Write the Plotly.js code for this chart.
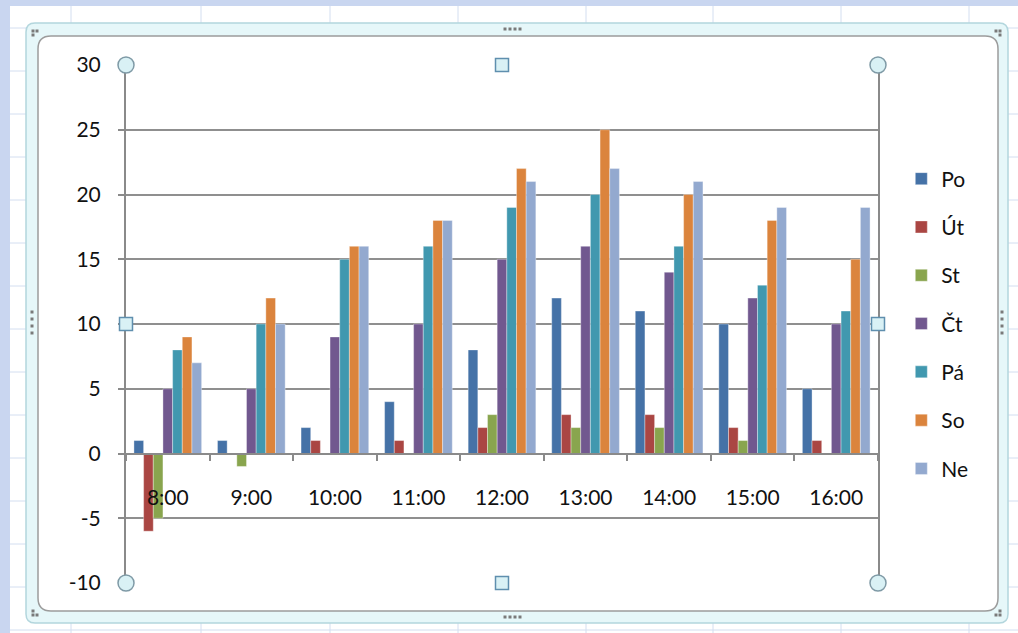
<!DOCTYPE html>
<html>
<head>
<meta charset="utf-8">
<script src="https://cdn.plot.ly/plotly-3.0.1.min.js"></script>
<style>html,body{margin:0;padding:0;background:#fff;}#chart{width:1018px;height:633px;}</style>
</head>
<body>
<div id="chart"></div>
<script>
// ---- data ----
const hours = ["8:00","9:00","10:00","11:00","12:00","13:00","14:00","15:00","16:00"];
const seriesNames = ["Po","Út","St","Čt","Pá","So","Ne"];
const po = [1, 1, 2, 4, 8, 12, 11, 10, 5];
const ut = [-6, 0, 1, 1, 2, 3, 3, 2, 1];
const st = [-5, -1, 0, 0, 3, 2, 2, 1, 0];
const ct = [5, 5, 9, 10, 15, 16, 14, 12, 10];
const pa = [8, 10, 15, 16, 19, 20, 16, 13, 11];
const so = [9, 12, 16, 18, 22, 25, 20, 18, 15];
const ne = [7, 10, 16, 18, 21, 22, 21, 19, 19];
const seriesValues = [po, ut, st, ct, pa, so, ne];
const yTickVals = [-10, -5, 0, 5, 10, 15, 20, 25, 30];
const yTickText = ["-10", "-5", "0", "5", "10", "15", "20", "25", "30"];
const colors = ["#4572a7","#aa4643","#89a54e","#71588f","#4198af","#db843d","#93a9cf"];

const FONT = "Lato, 'Open Sans', sans-serif";
const FS = 21;

const traces = seriesNames.map((n, i) => ({
  type: "bar",
  name: n,
  x: hours,
  y: seriesValues[i],
  legendgroup: "g" + i,
  marker: {color: colors[i], line: {color: "rgba(255,255,255,0.35)", width: 1}},
  hoverinfo: "x+y+name"
}));

// ---- decoration geometry (pixel -> paper) ----
const L = 126, R = 878, T = 65, B = 583;
const px = x => (x - L) / (R - L);
const py = y => (B - y) / (B - T);

function roundRect(x0, y0, x1, y1, r) {
  const a = px(x0), b = px(x1), c = py(y0), d = py(y1);
  const rx = r / (R - L), ry = r / (B - T);
  return `M${a + rx},${c} L${b - rx},${c} Q${b},${c} ${b},${c - ry} L${b},${d + ry} Q${b},${d} ${b - rx},${d} L${a + rx},${d} Q${a},${d} ${a},${d + ry} L${a},${c - ry} Q${a},${c} ${a + rx},${c} Z`;
}
function rect(x0, y0, x1, y1, fill, line, lw, layer) {
  return {type: "rect", xref: "paper", yref: "paper", x0: px(x0), x1: px(x1), y0: py(y0), y1: py(y1),
    fillcolor: fill, line: {color: line || fill, width: lw || 0}, layer: layer || "below"};
}
function circ(cx, cy, r, fill, line, layer) {
  return {type: "circle", xref: "paper", yref: "paper", x0: px(cx - r), x1: px(cx + r), y0: py(cy + r), y1: py(cy - r),
    fillcolor: fill, line: {color: line, width: 1.5}, layer: layer || "above"};
}

const shapes = [];
// spreadsheet background
shapes.push(rect(0, 0, 1018, 6, "#c9d6f0"));
shapes.push(rect(0, 0, 10, 633, "#c9d6f0"));
[71, 201, 330, 458, 586, 713, 841, 969].forEach(x =>
  shapes.push({type: "line", xref: "paper", yref: "paper", x0: px(x), x1: px(x), y0: py(6), y1: py(633), line: {color: "#d3def0", width: 1}, layer: "below"}));
[28, 71, 114, 157, 200, 243, 286, 329, 372, 415, 458, 501, 544, 587, 630].forEach(y =>
  shapes.push({type: "line", xref: "paper", yref: "paper", x0: px(10), x1: px(1018), y0: py(y), y1: py(y), line: {color: "#d3def0", width: 1}, layer: "below"}));
// chart frame
shapes.push({type: "path", xref: "paper", yref: "paper", path: roundRect(26, 23, 1008, 623, 9), fillcolor: "#e6f7f9", line: {color: "#b3d6dd", width: 1.5}, layer: "below"});
shapes.push({type: "path", xref: "paper", yref: "paper", path: roundRect(38, 36, 998, 611, 13), fillcolor: "#ffffff", line: {color: "#9c9c9c", width: 1.5}, layer: "below"});
// grab dots on the frame
const dot = (x, y) => rect(x - 1.5, y - 1.5, x + 1.5, y + 1.5, "#7a7a7a");
[[33, 31], [37, 31], [33, 35], [33, 611], [33, 615], [37, 615], [996, 31], [1000, 31], [1000, 35], [1000, 611], [996, 615], [1000, 615]].forEach(p => shapes.push(dot(p[0], p[1])));
[505, 510, 515, 520].forEach(x => { shapes.push(dot(x, 29)); shapes.push(dot(x, 617)); });
[312, 319, 326, 333].forEach(y => { shapes.push(dot(32, y)); shapes.push(dot(1002, y)); });
// plot area selection handles
const hFill = "#d9f1f5", hLine = "#7f9aa6";
[[L, T], [R, T], [L, B], [R, B]].forEach(p => shapes.push(circ(p[0], p[1], 8, hFill, hLine)));
[[502, T], [502, B], [L, 324], [R, 324]].forEach(p =>
  shapes.push(rect(p[0] - 6.5, p[1] - 6.5, p[0] + 6.5, p[1] + 6.5, hFill, "#5f8fae", 1.5, "above")));

const layout = {
  width: 1018, height: 633,
  margin: {l: L, r: 1018 - R, t: T, b: 633 - B, pad: 0},
  paper_bgcolor: "#ffffff",
  plot_bgcolor: "#ffffff",
  font: {family: FONT, size: FS, color: "#111"},
  barmode: "group",
  bargap: 0.19,
  bargroupgap: 0,
  showlegend: true,
  legend: {
    x: 1.031, xanchor: "left", y: 0.5, yanchor: "middle",
    traceorder: "grouped", tracegroupgap: 18,
    font: {family: FONT, size: FS, color: "#111"},
    bgcolor: "rgba(0,0,0,0)", itemwidth: 30
  },
  xaxis: {
    type: "category",
    anchor: "free", position: 0.25,
    showline: true, linecolor: "#8a8a8a", linewidth: 2,
    ticks: "outside", tickson: "boundaries", ticklen: 6, tickcolor: "#8a8a8a", tickwidth: 2,
    ticklabelstandoff: 25,
    showgrid: false, zeroline: false,
    tickfont: {family: FONT, size: FS, color: "#111"}
  },
  yaxis: {
    range: [-10, 30],
    tickmode: "array", tickvals: yTickVals, ticktext: yTickText,
    showline: true, linecolor: "#8a8a8a", linewidth: 2, mirror: true,
    ticks: "outside", ticklen: 6, tickcolor: "#8a8a8a", tickwidth: 2,
    ticklabelstandoff: 13,
    gridcolor: "#8f8f8f", gridwidth: 2,
    zeroline: false,
    tickfont: {family: FONT, size: FS, color: "#111"}
  },
  shapes: shapes
};

Plotly.newPlot("chart", traces, layout, {displayModeBar: false, staticPlot: true});
</script>
</body>
</html>
